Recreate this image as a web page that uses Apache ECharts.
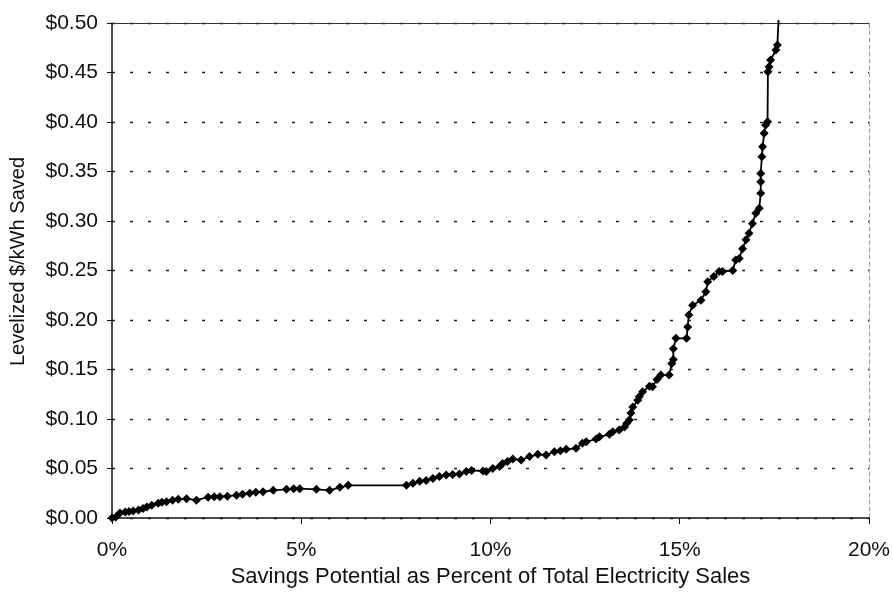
<!DOCTYPE html>
<html>
<head>
<meta charset="utf-8">
<script src="https://cdn.jsdelivr.net/npm/echarts@6/dist/echarts.min.js"></script>
<style>
html,body{margin:0;padding:0;background:#fff;}
#chart{width:893px;height:595px;}
</style>
</head>
<body>
<div id="chart"></div>
<script>
// Savings potential (% of total electricity sales)
var savingsPct = [0.00,0.10,0.21,0.35,0.45,0.56,0.70,0.82,0.92,1.05,1.22,1.32,1.44,1.60,1.75,1.97,2.23,2.54,2.70,2.85,3.05,3.29,3.45,3.64,3.80,3.99,4.26,4.61,4.80,4.96,5.40,5.75,6.02,6.24,7.78,7.95,8.13,8.30,8.48,8.65,8.83,9.00,9.18,9.36,9.50,9.80,9.89,10.06,10.24,10.32,10.45,10.59,10.81,11.03,11.25,11.47,11.69,11.85,12.00,12.26,12.43,12.53,12.79,12.88,13.14,13.23,13.40,13.54,13.60,13.67,13.71,13.76,13.89,13.93,14.02,14.20,14.28,14.40,14.50,14.72,14.79,14.83,14.83,14.90,15.18,15.21,15.24,15.34,15.56,15.69,15.74,15.90,16.04,16.13,16.40,16.48,16.57,16.66,16.75,16.83,16.92,17.01,17.10,17.14,17.14,17.14,17.17,17.19,17.23,17.27,17.32,17.33,17.36,17.40,17.54,17.58,17.61];
// Levelized cost ($/kWh saved)
var levelizedCost = [0.000,0.001,0.005,0.006,0.0065,0.007,0.008,0.0095,0.011,0.013,0.015,0.016,0.0165,0.018,0.019,0.0195,0.018,0.021,0.0215,0.0215,0.022,0.023,0.024,0.025,0.026,0.0265,0.028,0.029,0.0295,0.0296,0.029,0.028,0.031,0.033,0.033,0.035,0.037,0.038,0.040,0.042,0.0435,0.044,0.0445,0.047,0.048,0.0475,0.047,0.050,0.052,0.055,0.057,0.0596,0.0586,0.062,0.0643,0.0636,0.067,0.068,0.0694,0.0704,0.0754,0.077,0.0798,0.082,0.0845,0.087,0.0889,0.092,0.0956,0.099,0.106,0.112,0.119,0.1225,0.1276,0.133,0.1326,0.140,0.1444,0.1444,0.156,0.160,0.171,0.1815,0.1815,0.193,0.205,0.215,0.220,0.2286,0.2387,0.244,0.249,0.249,0.250,0.2606,0.262,0.272,0.281,0.2876,0.2976,0.3078,0.3128,0.328,0.3397,0.348,0.365,0.375,0.3886,0.397,0.4003,0.4508,0.4559,0.4626,0.4727,0.4777,0.503];
var xTicks = [0,5,10,15,20];
var yTicks = [0,0.05,0.10,0.15,0.20,0.25,0.30,0.35,0.40,0.45,0.50];

var pts = savingsPct.map(function(x,i){
  var p = {value:[x, levelizedCost[i]]};
  if (i === savingsPct.length-1) p.symbol = 'none';
  return p;
});
var FONT = '"Liberation Sans", Arial, sans-serif';
var chart = echarts.init(document.getElementById('chart'), null, {renderer:'canvas'});
chart.setOption({
  animation:false,
  backgroundColor:'#fff',
  grid:{left:112,right:22,top:23,bottom:77,containLabel:false},
  xAxis:[{
    type:'value', min:xTicks[0], max:xTicks[xTicks.length-1], interval:5,
    name:'Savings Potential as Percent of Total Electricity Sales',
    nameLocation:'middle', nameGap:37,
    nameTextStyle:{fontFamily:FONT,fontSize:22,color:'#111'},
    axisLine:{show:true,onZero:false,lineStyle:{color:'#111',width:1.5}},
    axisTick:{show:true,inside:false,length:6,lineStyle:{color:'#111'}},
    axisLabel:{fontFamily:FONT,fontSize:21,color:'#111',margin:22,formatter:function(v){return v+'%';}},
    splitLine:{show:false}
  },{
    type:'value', position:'top', min:0, max:20,
    axisLine:{show:true,onZero:false,lineStyle:{color:'#333',width:1.2}},
    axisTick:{show:false}, axisLabel:{show:false}, splitLine:{show:false}
  }],
  yAxis:[{
    type:'value', min:yTicks[0], max:yTicks[yTicks.length-1], interval:0.05,
    name:'Levelized $/kWh Saved', nameLocation:'middle', nameGap:84, nameRotate:90,
    nameTextStyle:{fontFamily:FONT,fontSize:20,color:'#111',padding:[0,0,0,18]},
    axisLine:{show:true,onZero:false,lineStyle:{color:'#111',width:1.5}},
    axisTick:{show:true,inside:false,length:5,lineStyle:{color:'#111'}},
    axisLabel:{fontFamily:FONT,fontSize:21,color:'#111',margin:14,formatter:function(v){return '$'+v.toFixed(2);}},
    splitLine:{show:true,lineStyle:{color:'#222',width:1.3,type:[3,15]}}
  },{
    type:'value', position:'right', min:0, max:0.5,
    axisLine:{show:true,onZero:false,lineStyle:{color:'#999',width:1,type:[4,3]}},
    axisTick:{show:false}, axisLabel:{show:false}, splitLine:{show:false}
  }],
  series:[{
    type:'line', data:pts, clip:false,
    symbol:'diamond', symbolSize:9,
    itemStyle:{color:'#000'},
    lineStyle:{color:'#000',width:1.8}
  }]
});
</script>
</body>
</html>
